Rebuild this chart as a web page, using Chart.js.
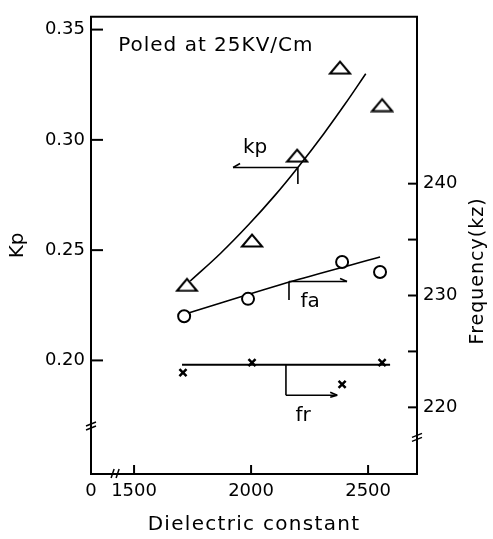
<!DOCTYPE html>
<html><head><meta charset="utf-8">
<script src="https://cdn.jsdelivr.net/npm/chart.js@4.4.0/dist/chart.umd.min.js"></script>
<style>html,body{margin:0;padding:0;background:#fff;}#wrap{width:493px;height:539px;}</style>
</head><body><div id="wrap"><canvas id="c" width="493" height="539"></canvas></div>
<script>
// ---- data ----
const kpDielectric = [1726, 2004, 2197, 2380, 2560];
const kpValues = [0.2345, 0.2546, 0.2931, 0.3330, 0.3160];
const kpFitDielectric = [1740, 1870, 1990, 2100, 2200, 2310, 2400, 2490];
const kpFitValues = [0.236, 0.2486, 0.2616, 0.2746, 0.2875, 0.3027, 0.316, 0.330];
const faDielectric = [1714, 1987, 2389, 2551];
const faValues = [228.15, 229.7, 233.0, 232.1];
const faFitDielectric = [1726, 2179, 2551];
const faFitValues = [228.4, 231.3, 233.44];
const frDielectric = [1709, 2004, 2389, 2560];
const frValues = [223.1, 224.0, 222.05, 224.0];
const frFitDielectric = [1705, 2594];
const frFitValues = [223.8, 223.8];
const xTickValues = [1316, 1500, 2000, 2500];
const xTickLabels = ['0', '1500', '2000', '2500'];
const kpTicks = [0.20, 0.25, 0.30, 0.35];
const freqTicks = [220, 225, 230, 235, 240];
const freqTickLabels = ['220', '', '230', '', '240'];

const FONT = 'DejaVu Sans';
const pts = (xs, ys) => xs.map((v, i) => ({x: v, y: ys[i]}));

// open triangle marker
const tri = document.createElement('canvas');
tri.width = 24; tri.height = 16;
(function(){const g = tri.getContext('2d'); g.strokeStyle = '#000'; g.lineWidth = 2; g.lineJoin='miter';
 g.beginPath(); g.moveTo(2,14.5); g.lineTo(12,2.5); g.lineTo(22,14.5); g.closePath(); g.stroke();})();

const deco = {
  id: 'deco',
  afterLayout(chart){
    const xs = chart.scales.x;
    if (!xs._patched){
      const orig = xs.drawTitle;
      xs.drawTitle = function(){ this.ctx.save(); this.ctx.letterSpacing = '1.3px'; orig.apply(this, arguments); this.ctx.restore(); };
      xs._patched = true;
    }
  },
  afterDraw(chart){
    const {ctx, chartArea: ca, scales: {x, y, y2}} = chart;
    const L = (a,b,c,d)=>{ctx.beginPath();ctx.moveTo(a,b);ctx.lineTo(c,d);ctx.stroke();};
    ctx.save();
    ctx.strokeStyle = '#000'; ctx.fillStyle = '#000'; ctx.lineWidth = 2;
    L(ca.left-1, ca.top, ca.right+1, ca.top);
    kpTicks.forEach(v=>{const p=y.getPixelForValue(v); L(ca.left, p, ca.left+12, p);});
    freqTicks.forEach(v=>{const p=y2.getPixelForValue(v); L(ca.right-9, p, ca.right, p);});
    xTickValues.slice(1).forEach(v=>{const p=x.getPixelForValue(v); L(p, ca.bottom, p, ca.bottom-9);});
    // axis break marks
    ctx.lineWidth = 1.5;
    let p = y.getPixelForValue(0.1707);
    L(ca.left-5, p+1, ca.left+5, p-3); L(ca.left-5, p+5, ca.left+5, p+1);
    p = y2.getPixelForValue(217.4);
    L(ca.right-5, p+1, ca.right+5, p-3); L(ca.right-5, p+5, ca.right+5, p+1);
    p = x.getPixelForValue(1419);
    L(p-4, ca.bottom+4, p-1, ca.bottom-5); L(p+1, ca.bottom+4, p+4, ca.bottom-5);
    // annotation arrows
    ctx.lineWidth = 1.6;
    // kp
    let ax = x.getPixelForValue(2200), ay = y.getPixelForValue(0.2875), bx = x.getPixelForValue(1923);
    L(ax, ay, bx, ay); L(bx, ay, bx+7, ay-4); L(ax, ay, ax, y.getPixelForValue(0.280));
    // fa
    ax = x.getPixelForValue(2162); ay = y2.getPixelForValue(231.25); bx = x.getPixelForValue(2410);
    L(ax, ay, bx, ay); L(bx, ay, bx-7, ay-3); L(ax, ay, ax, y2.getPixelForValue(229.6));
    // fr
    ax = x.getPixelForValue(2149); ay = y2.getPixelForValue(221.08); bx = x.getPixelForValue(2368);
    L(ax, y2.getPixelForValue(223.8), ax, ay); L(ax, ay, bx, ay); L(bx, ay, bx-7, ay-3); L(bx, ay, bx-7, ay+2);
    // labels
    ctx.font = '20px "' + FONT + '"'; ctx.textAlign = 'center'; ctx.textBaseline = 'middle';
    ctx.fillText('kp', x.getPixelForValue(2017), y.getPixelForValue(0.2964));
    ctx.fillText('fa', x.getPixelForValue(2252), y2.getPixelForValue(229.4));
    ctx.fillText('fr', x.getPixelForValue(2222), y2.getPixelForValue(219.2));
    ctx.letterSpacing = '1px';
    ctx.textAlign = 'left';
    ctx.fillText('Poled at 25KV/Cm', x.getPixelForValue(1432), y.getPixelForValue(0.3428));
    // right axis title, reading bottom to top
    ctx.save();
    ctx.translate(ca.right + 61, y2.getPixelForValue(232.2));
    ctx.rotate(-Math.PI/2);
    ctx.textAlign = 'center';
    ctx.font = '19px "' + FONT + '"';
    ctx.fillText('Frequency(kz)', 0, 0);
    ctx.restore();
    ctx.restore();
  }
};

const tickFont = {family: FONT, size: 18};
new Chart(document.getElementById('c'), {
  type: 'scatter',
  data: {datasets: [
    {label:'Kp', data: pts(kpDielectric, kpValues), yAxisID:'y', pointStyle: tri, pointRadius: 10, showLine:false, order:0},
    {label:'Kp fit', data: pts(kpFitDielectric, kpFitValues), yAxisID:'y', showLine:true, pointRadius:0, borderColor:'#000', borderWidth:1.6, tension:0.4, order:1},
    {label:'fa', data: pts(faDielectric, faValues), yAxisID:'y2', pointStyle:'circle', pointRadius:6, borderColor:'#000', borderWidth:2, backgroundColor:'#fff', showLine:false, order:0},
    {label:'fa fit', data: pts(faFitDielectric, faFitValues), yAxisID:'y2', showLine:true, pointRadius:0, borderColor:'#000', borderWidth:1.6, cubicInterpolationMode:'monotone', order:1},
    {label:'fr', data: pts(frDielectric, frValues), yAxisID:'y2', pointStyle:'crossRot', pointRadius:5, borderColor:'#000', borderWidth:2.5, showLine:false, order:0},
    {label:'fr fit', data: pts(frFitDielectric, frFitValues), yAxisID:'y2', showLine:true, pointRadius:0, borderColor:'#000', borderWidth:2, order:1}
  ]},
  options: {
    responsive:false, animation:false, devicePixelRatio:1,
    layout:{padding:{top:11, left:0, right:0, bottom:0}},
    plugins:{legend:{display:false}, tooltip:{enabled:false}},
    elements:{point:{hoverRadius:0}},
    scales:{
      x:{type:'linear', min:1316, max:2709,
        afterBuildTicks: s => { s.ticks = xTickValues.map(v=>({value:v})); },
        afterFit: s => { s.height = 65; },
        ticks:{callback:(v)=>{const i=xTickValues.indexOf(v); return i<0?'':xTickLabels[i];}, font:tickFont, color:'#000', padding:7, maxRotation:0, autoSkip:false},
        grid:{display:true, drawOnChartArea:false, drawTicks:false},
        border:{display:true, color:'#000', width:2},
        title:{display:true, text:'Dielectric constant', color:'#000', font:{family:FONT, size:20}, padding:{top:0,bottom:2}}
      },
      y:{type:'linear', position:'left', min:0.1485, max:0.3558,
        afterBuildTicks: s => { s.ticks = kpTicks.map(v=>({value:v})); },
        afterFit: s => { s.width = 91; },
        ticks:{callback:(v)=>v.toFixed(2), font:tickFont, color:'#000', padding:6},
        grid:{display:true, drawOnChartArea:false, drawTicks:false},
        border:{display:true, color:'#000', width:2},
        title:{display:true, text:'Kp', color:'#000', font:{family:FONT, size:20}, padding:{top:6,bottom:0}}
      },
      y2:{type:'linear', position:'right', min:214.04, max:254.92,
        afterBuildTicks: s => { s.ticks = freqTicks.map(v=>({value:v})); },
        afterFit: s => { s.width = 76; },
        ticks:{callback:(v)=>{const i=freqTicks.indexOf(v); return i<0?'':freqTickLabels[i];}, font:tickFont, color:'#000', padding:6},
        grid:{display:true, drawOnChartArea:false, drawTicks:false},
        border:{display:true, color:'#000', width:2}
      }
    }
  },
  plugins:[deco]
});
</script></body></html>
